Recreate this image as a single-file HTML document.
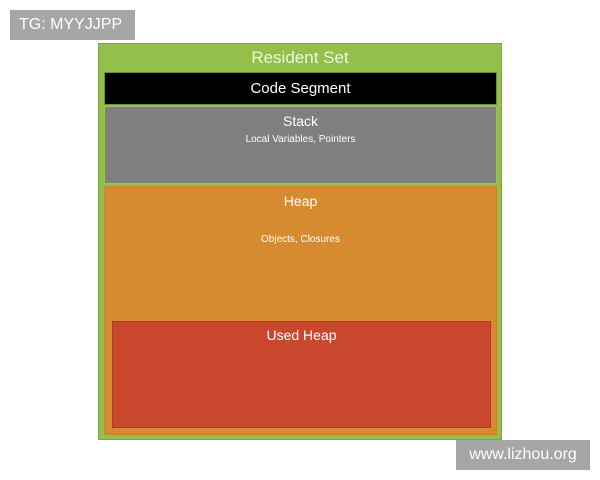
<!DOCTYPE html>
<html><head><style>
body{margin:0;width:600px;height:480px;background:#fff;position:relative;overflow:hidden;font-family:"Liberation Sans",sans-serif}
div{position:absolute;box-sizing:border-box}
.c{text-align:center;color:#fff}
</style></head><body>
<div style="left:10px;top:10px;width:125px;height:30px;background:#a6a6a6;color:#fff;font-size:16px;line-height:30px;padding-left:9px">TG: MYYJJPP</div>
<div style="left:98px;top:43px;width:404px;height:397px;background:#93bf4a;border:1px solid #7fa63c"></div>
<div class="c" style="left:98px;top:48px;width:404px;font-size:17px;color:#eef7dd">Resident Set</div>
<div class="c" style="left:104px;top:72px;width:393px;height:33px;background:#000;font-size:15px;line-height:31px;border:1px solid #6e8f3a">Code Segment</div>
<div class="c" style="left:104px;top:106px;width:393px;height:78px;background:#7f7f7f;border:1px solid #9bc060"><div style="left:0;right:0;top:6px;font-size:14px">Stack</div><div style="left:0;right:0;top:27px;font-size:10px">Local Variables, Pointers</div></div>
<div class="c" style="left:104px;top:186px;width:393px;height:249px;background:#d68b30;border:1px solid #c8862a"><div style="left:0;right:0;top:6px;font-size:14px">Heap</div><div style="left:0;right:0;top:47px;font-size:10px">Objects, Closures</div></div>
<div class="c" style="left:112px;top:321px;width:379px;height:107px;background:#c9472c;border:1px solid #b23a1f;font-size:14px;padding-top:5px">Used Heap</div>
<div style="left:456px;top:440px;width:134px;height:30px;background:#a6a6a6;color:#fff;font-size:16px;line-height:30px;text-align:center">www.lizhou.org</div>
</body></html>
